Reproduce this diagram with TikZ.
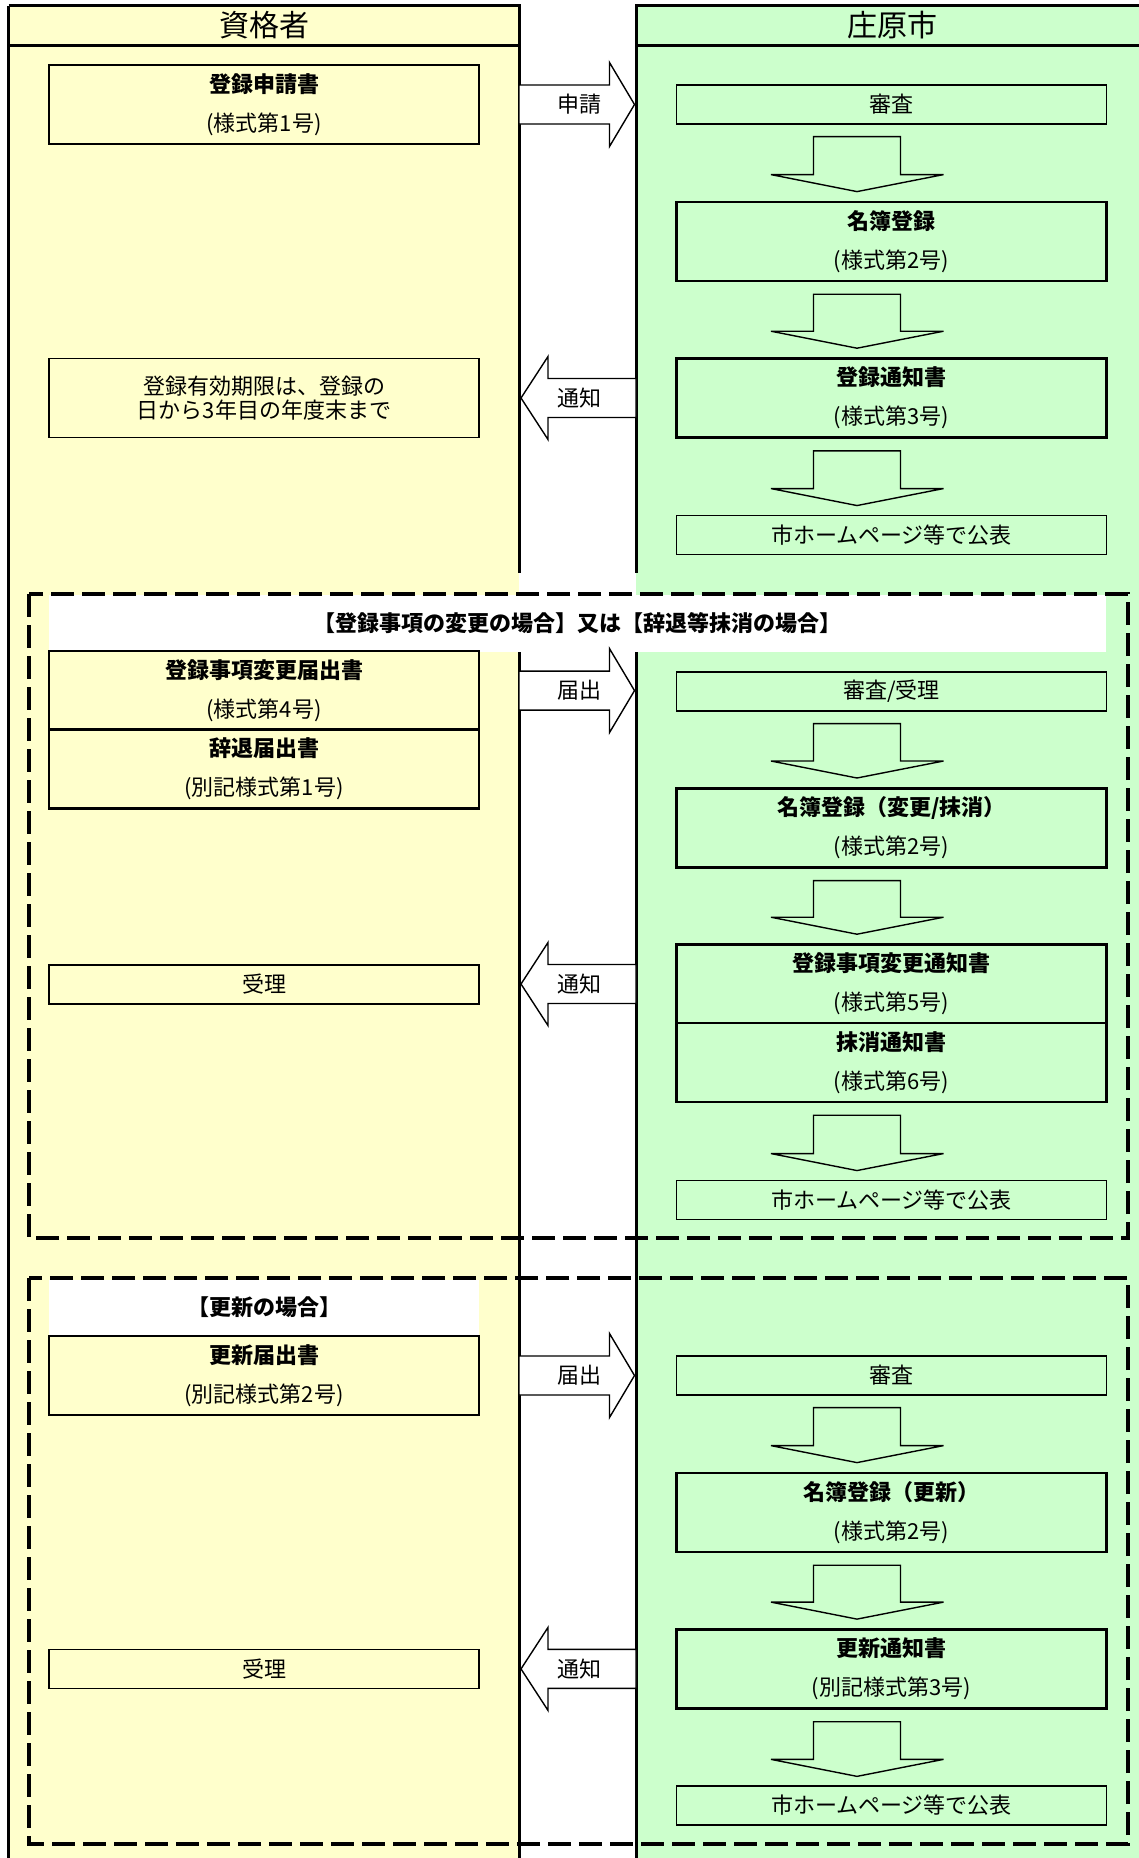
\documentclass[tikz,border=0pt]{standalone}
\usepackage{fontspec}
\setmainfont{Noto Sans CJK JP}
\usetikzlibrary{calc}
\definecolor{kishacol}{HTML}{FFFFCC}
\definecolor{shicol}{HTML}{CCFFCC}

% fat arrow between two boxes of the city lane
\newcommand\flowdown[2]{%
  \draw[downarrow] let \p1=(#1.south), \p2=(#2.north) in
    (\x1-78pt,\y1-12pt) -- (\x1-78pt,\y2+26pt) -- (\x1-120.5pt,\y2+26pt)
    -- (\x1-34.5pt,\y2+9pt) -- (\x1+52pt,\y2+26pt) -- (\x1+9pt,\y2+26pt)
    -- (\x1+9pt,\y1-12pt) -- cycle;}
% fat arrow from the applicant lane to the city lane
\newcommand\sendarrow[3]{%
  \draw[sidearrow] let \p1=(lline), \p2=(rline), \p3=(#1) in
    (\x1,\y3+19.5pt) -- (\x2-26.5pt,\y3+19.5pt) -- (\x2-26.5pt,\y3+42pt)
    -- (\x2-1.5pt,\y3) -- (\x2-26.5pt,\y3-42pt) -- (\x2-26.5pt,\y3-19.5pt)
    -- (\x1,\y3-19.5pt) -- cycle
    (\x1/2+\x2/2+2pt,\y3) node[armtext] (#2) {#3};}
% fat arrow back from the city lane
\newcommand\replyarrow[3]{%
  \draw[sidearrow] let \p1=(lline), \p2=(rline), \p3=(#1) in
    (\x2,\y3+19.5pt) -- (\x1+29pt,\y3+19.5pt) -- (\x1+29pt,\y3+41.5pt)
    -- (\x1+2pt,\y3) -- (\x1+29pt,\y3-41.5pt) -- (\x1+29pt,\y3-19.5pt)
    -- (\x2,\y3-19.5pt) -- cycle
    (\x1/2+\x2/2+2pt,\y3) node[armtext] (#2) {#3};}

\begin{document}
\begin{tikzpicture}[x=1pt,y=-1pt,
    formbox/.style={draw, line width=2.6pt, minimum width=430pt,
      minimum height=79pt, inner sep=0pt, align=center,
      font=\fontsize{22}{39}\selectfont},
    notebox/.style={draw, line width=1.3pt, minimum width=430pt,
      minimum height=39pt, inner sep=0pt, align=center,
      font=\fontsize{22}{23.5}\selectfont},
    kisha/.style={fill=kishacol},
    shi/.style={fill=shicol},
    colhead/.style={font=\fontsize{30}{30}\selectfont, inner sep=0pt},
    colline/.style={line width=3pt},
    casebox/.style={line width=4.5pt, dash pattern=on 23pt off 8pt},
    casetext/.style={font=\bfseries\fontsize{22}{22}\selectfont, inner sep=0pt},
    downarrow/.style={line width=1.4pt, fill=shicol, line join=miter},
    sidearrow/.style={line width=1.4pt, fill=white, line join=miter},
    armtext/.style={font=\fontsize{22}{22}\selectfont, inner sep=0pt}]
  \useasboundingbox (0,0) rectangle (1139,1858);

  % lanes
  \fill[kishacol] (8.7,5.7) rectangle (519,1858);
  \fill[shicol] (636,5.7) rectangle (1139,1858);
  \draw[colline] (8.7,5.7) -- (8.7,1858);
  \draw[colline] (8.7,5.7) -- (519,5.7) -- (519,573);
  \draw[colline] (519,652) -- (519,1858);
  \draw[colline] (1139,5.7) -- (636,5.7) -- (636,573);
  \draw[colline] (636,652) -- (636,1858);
  \draw[colline] (8.7,45) -- (519,45) (636,45) -- (1139,45);
  \coordinate (lline) at (519,0);
  \coordinate (rline) at (636,0);
  \node[colhead] (kishahead) at (264,25.4) {資格者};
  \node[colhead] (shihead) at (892,25.4) {庄原市};

  % case frames
  \fill[white] (49,595) rectangle (1106,651.6);
  \fill[white] (49,1280) rectangle (479,1334.5);
  \draw[casebox] (29,594) rectangle (1128,1238);
  \draw[casebox] (29,1278) rectangle (1128,1844);
  \node[casetext] (henkocase) at (577.5,623)
    {【登録事項の変更の場合】又は【辞退等抹消の場合】};
  \node[casetext] (koshincase) at (264.5,1307) {【更新の場合】};

  % registration
  \node[formbox, kisha] (shinsei) at (264,104.5)
    {\textbf{登録申請書}\\(様式第1号)};
  \node[notebox, shi] (shinsa) at (891.5,104.5) {審査};
  \node[formbox, shi] (meibo) at (891.5,241.4)
    {\textbf{名簿登録}\\(様式第2号)};
  \node[formbox, shi] (tsuchi) at (891.5,398)
    {\textbf{登録通知書}\\(様式第3号)};
  \node[notebox, kisha, minimum height=79pt] (kigen) at (264,398)
    {登録有効期限は、登録の\\日から3年目の年度末まで};
  \node[notebox, shi] (koho) at (891.5,534.7) {市ホームページ等で公表};
  \sendarrow{shinsei}{shinseilbl}{申請}
  \replyarrow{tsuchi}{tsuchilbl}{通知}
  \flowdown{shinsa}{meibo}
  \flowdown{meibo}{tsuchi}
  \flowdown{tsuchi}{koho}

  % change or withdrawal
  \node[formbox, kisha] (henkotodoke) at (264,690.6)
    {\textbf{登録事項変更届出書}\\(様式第4号)};
  \node[formbox, kisha] (jitaitodoke) at (264,769)
    {\textbf{辞退届出書}\\(別記様式第1号)};
  \node[notebox, shi] (juri) at (891.5,691.5) {審査/受理};
  \node[formbox, shi] (meibohenko) at (891.5,827.8)
    {\textbf{名簿登録（変更/抹消）}\\(様式第2号)};
  \node[formbox, shi] (henkotsuchi) at (891.5,984)
    {\textbf{登録事項変更通知書}\\(様式第5号)};
  \node[formbox, shi] (masshotsuchi) at (891.5,1062.4)
    {\textbf{抹消通知書}\\(様式第6号)};
  \node[notebox, kisha] (juriL) at (264,984.4) {受理};
  \node[notebox, shi] (kohohenko) at (891.5,1199.7) {市ホームページ等で公表};
  \sendarrow{henkotodoke}{todokelbl}{届出}
  \replyarrow{henkotsuchi}{henkolbl}{通知}
  \flowdown{juri}{meibohenko}
  \flowdown{meibohenko}{henkotsuchi}
  \flowdown{masshotsuchi}{kohohenko}

  % renewal
  \node[formbox, kisha] (koshintodoke) at (264,1375.5)
    {\textbf{更新届出書}\\(別記様式第2号)};
  \node[notebox, shi] (shinsakoshin) at (891.5,1375.5) {審査};
  \node[formbox, shi] (meibokoshin) at (891.5,1512.4)
    {\textbf{名簿登録（更新）}\\(様式第2号)};
  \node[formbox, shi] (koshintsuchi) at (891.5,1668.9)
    {\textbf{更新通知書}\\(別記様式第3号)};
  \node[notebox, kisha] (juriK) at (264,1669) {受理};
  \node[notebox, shi] (kohokoshin) at (891.5,1805.5) {市ホームページ等で公表};
  \sendarrow{koshintodoke}{koshinlbl}{届出}
  \replyarrow{koshintsuchi}{koshintsuchilbl}{通知}
  \flowdown{shinsakoshin}{meibokoshin}
  \flowdown{meibokoshin}{koshintsuchi}
  \flowdown{koshintsuchi}{kohokoshin}
\end{tikzpicture}
\end{document}
